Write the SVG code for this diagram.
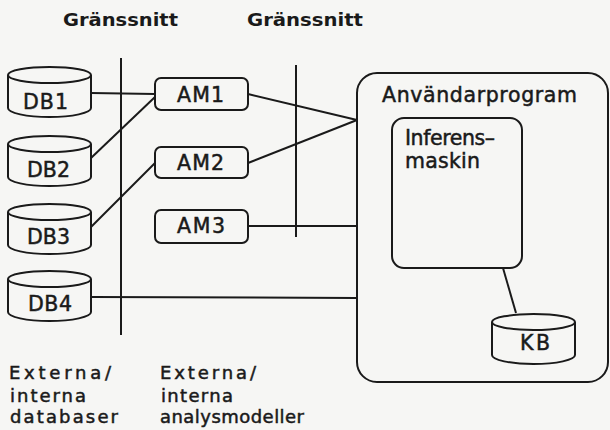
<svg xmlns="http://www.w3.org/2000/svg" width="610" height="430" viewBox="0 0 610 430">
<style>
.s{fill:none;stroke:#1a1a1a;stroke-width:2;stroke-linejoin:round}
.b{fill:#f6f6f4;stroke:#1a1a1a;stroke-width:2}
text{font-family:"DejaVu Sans","Liberation Sans",Arial,sans-serif;fill:#1a1a1a;font-size:20.5px;stroke:#1a1a1a;stroke-width:0.5}
.h{font-weight:bold;font-size:18px;stroke-width:0}
.l{font-size:18px}
</style>
<defs>
<path id="cyl" d="M0,9 A41.5,8 0 0 1 83,9 V42 A41.5,9 0 0 1 0,42 Z M0,9 A41.5,8 0 0 0 83,9"/>
</defs>
<rect width="610" height="430" fill="#f6f6f4"/>
<g id="headers">
<text class="h" x="63" y="26" textLength="115" lengthAdjust="spacingAndGlyphs">Gränssnitt</text>
<text class="h" x="247" y="26" textLength="116" lengthAdjust="spacingAndGlyphs">Gränssnitt</text>
</g>
<g id="interfaces">
<line class="s" x1="121" y1="58" x2="121" y2="335"/>
<line class="s" x1="296" y1="65" x2="296" y2="237"/>
</g>
<g id="Anvandarprogram">
<rect class="b" x="357" y="73" width="251" height="309" rx="20"/>
<text x="382" y="102" textLength="195" lengthAdjust="spacing">Användarprogram</text>
</g>
<g id="connectors">
<polyline class="s" points="91,93 155,94"/>
<polyline class="s" points="91,158 155,97"/>
<polyline class="s" points="91,227 155,163"/>
<polyline class="s" points="248,94 357,120"/>
<polyline class="s" points="248,163 357,120"/>
<polyline class="s" points="248,226 357,226"/>
<polyline class="s" points="91,297 357,298"/>
<polyline class="s" points="503,268 516,313"/>
</g>
<g id="DB1"><use href="#cyl" class="b" x="8" y="66"/><text x="23" y="109" textLength="45" lengthAdjust="spacing">DB1</text></g>
<g id="DB2"><use href="#cyl" class="b" x="8" y="135"/><text x="27" y="177" textLength="43" lengthAdjust="spacing">DB2</text></g>
<g id="DB3"><use href="#cyl" class="b" x="8" y="203"/><text x="27" y="244" textLength="43" lengthAdjust="spacing">DB3</text></g>
<g id="DB4"><use href="#cyl" class="b" x="8" y="270"/><text x="28" y="311" textLength="44" lengthAdjust="spacing">DB4</text></g>
<g id="AM1"><rect class="b" x="155" y="78" width="93" height="32" rx="6"/><text x="177" y="102" textLength="47" lengthAdjust="spacing">AM1</text></g>
<g id="AM2"><rect class="b" x="155" y="147" width="93" height="31" rx="6"/><text x="177" y="170" textLength="47" lengthAdjust="spacing">AM2</text></g>
<g id="AM3"><rect class="b" x="155" y="210" width="93" height="33" rx="6"/><text x="177" y="233" textLength="48" lengthAdjust="spacing">AM3</text></g>
<g id="Inferensmaskin">
<rect class="b" x="392" y="118" width="130" height="150" rx="12"/>
<text x="405" y="145" textLength="90" lengthAdjust="spacing">Inferens–</text>
<text x="405" y="168" textLength="75" lengthAdjust="spacing">maskin</text>
</g>
<g id="KB"><use href="#cyl" class="b" x="492" y="313"/><text x="520" y="350" textLength="30" lengthAdjust="spacing">KB</text></g>
<g id="labels">
<text class="l" x="9" y="379" textLength="102" lengthAdjust="spacing">Externa/</text>
<text class="l" x="10" y="402" textLength="76" lengthAdjust="spacing">interna</text>
<text class="l" x="10" y="423" textLength="108" lengthAdjust="spacing">databaser</text>
<text class="l" x="160" y="379" textLength="96" lengthAdjust="spacing">Externa/</text>
<text class="l" x="161" y="402" textLength="72" lengthAdjust="spacing">interna</text>
<text class="l" x="160" y="423" textLength="144" lengthAdjust="spacing">analysmodeller</text>
</g>
</svg>
